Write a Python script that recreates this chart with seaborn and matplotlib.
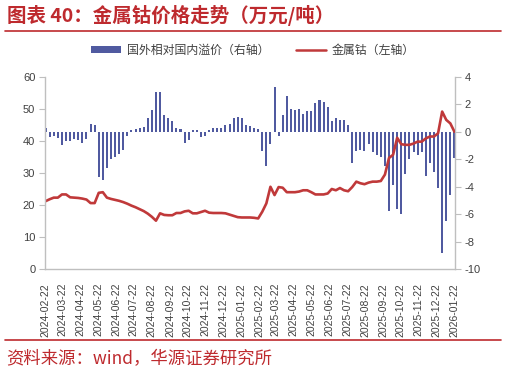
import matplotlib
matplotlib.use("Agg")
import matplotlib.pyplot as plt
import matplotlib.dates as mdates
from matplotlib.patches import Patch
from matplotlib.lines import Line2D
import pandas as pd
import seaborn as sns

# ---------------- data (weekly, from 2024-02-22) ----------------
start_date = "2024-02-22"

cobalt_price = [  # 金属钴（万元/吨，左轴）
    21.2, 21.8, 22.3, 22.3, 23.3, 23.3, 22.4, 22.3, 22.2, 22.0,
    21.7, 20.6, 20.6, 23.8, 24.0, 22.3, 21.9, 21.6, 21.3, 20.9,
    20.4, 19.8, 19.3, 18.7, 18.1, 17.3, 16.3, 15.1, 17.4, 16.9,
    16.8, 16.8, 17.5, 17.5, 18.0, 18.2, 17.4, 17.4, 17.8, 18.2,
    17.6, 17.5, 17.5, 17.5, 17.4, 17.0, 16.6, 16.2, 16.1, 16.1,
    16.1, 16.0, 15.8, 17.9, 20.5, 25.7, 23.1, 25.6, 25.4, 24.0,
    24.0, 24.0, 24.2, 24.6, 24.6, 24.0, 23.3, 23.3, 23.3, 23.6,
    25.0, 24.6, 25.3, 24.6, 24.3, 25.6, 27.3, 26.8, 26.5, 27.0,
    27.3, 27.3, 27.5, 29.5, 34.7, 35.7, 41.0, 39.0, 38.8, 38.8,
    39.2, 39.8, 39.8, 40.8, 41.4, 41.4, 42.4, 49.2, 46.6, 45.5,
    42.9,
]

premium = [  # 国外相对国内溢价（右轴）
    0.3, -0.4, -0.3, -0.45, -0.95, -0.7, -0.65, -0.5, -0.6, -0.8,
    -0.5, 0.6, 0.5, -3.3, -3.5, -2.6, -2.0, -1.8, -1.6, -1.3,
    -0.3, 0.1, 0.2, 0.3, 0.35, 1.0, 1.6, 2.9, 2.9, 1.2,
    1.0, 0.8, 0.3, 0.2, -0.8, -0.6, 0.15, 0.1, -0.35, -0.3,
    0.1, 0.3, 0.3, 0.3, 0.5, 0.6, 1.0, 1.1, 1.0, 0.5,
    0.4, 0.3, 0.2, -1.4, -2.5, -0.9, 3.3, -0.3, 1.25, 2.65,
    1.7, 1.6, 1.7, 1.3, 1.5, 1.5, 2.1, 2.3, 2.2, 1.8,
    0.8, 1.0, 0.9, 0.9, 0.5, -2.3, -1.4, -1.3, -1.4, -0.9,
    -1.5, -1.7, -1.8, -2.5, -5.8, -3.9, -5.6, -6.0, -3.1, -2.0,
    -1.5, -1.7, -1.5, -3.2, -2.3, -2.9, -4.1, -8.8, -6.5, -4.6,
    -1.9,
]

tick_labels = [
    "2024-02-22", "2024-03-22", "2024-04-22", "2024-05-22", "2024-06-22",
    "2024-07-22", "2024-08-22", "2024-09-22", "2024-10-22", "2024-11-22",
    "2024-12-22", "2025-01-22", "2025-02-22", "2025-03-22", "2025-04-22",
    "2025-05-22", "2025-06-22", "2025-07-22", "2025-08-22", "2025-09-22",
    "2025-10-22", "2025-11-22", "2025-12-22", "2026-01-22",
]

title_text = "图表 40：金属钴价格走势（万元/吨）"
source_text = "资料来源：wind，华源证券研究所"
bar_label = "国外相对国内溢价（右轴）"
line_label = "金属钴（左轴）"

# ---------------- style ----------------
BAR = "#505AA0"
LINE = "#C0393A"
RED = "#BE2A2E"
GRID_GRAY = "#BFBFBF"
TXT = "#404040"

sns.set_theme(style="white")
plt.rcParams["font.family"] = ["Liberation Sans", "Noto Sans CJK SC", "DejaVu Sans"]
plt.rcParams["axes.unicode_minus"] = False
CJK = ["Noto Sans CJK SC", "DejaVu Sans"]

dates = pd.date_range(start_date, periods=len(cobalt_price), freq="7D")
xnum = mdates.date2num(dates)
df = pd.DataFrame({"x": xnum, "price": cobalt_price, "premium": premium})

W, H = 506, 373
fig = plt.figure(figsize=(W / 100, H / 100), dpi=100)
ax = fig.add_axes([45 / W, 1 - 269 / H, 410 / W, 192 / H])
ax2 = ax.twinx()

sns.barplot(data=df, x="x", y="premium", native_scale=True, ax=ax2,
            color=BAR, saturation=1, width=0.5, errorbar=None,
            edgecolor="none", linewidth=0)
sns.lineplot(data=df, x="x", y="price", ax=ax, color=LINE, linewidth=1.9)

ax.set_zorder(ax2.get_zorder() + 1)
ax.patch.set_visible(False)

tick_pos = mdates.date2num(pd.to_datetime(tick_labels))
ax.set_xlim(tick_pos[0] - 1, tick_pos[-1] + 1)
ax.set_xticks(tick_pos)
ax.set_xticklabels(tick_labels, rotation=90, fontsize=7.5, color=TXT)

ax.set_ylim(0, 60)
ax.set_yticks(range(0, 61, 10))
ax2.set_ylim(-10, 4)
ax2.set_yticks(range(-10, 5, 2))

for a in (ax, ax2):
    a.set_xlabel("")
    a.set_ylabel("")
    for s in a.spines.values():
        s.set_visible(False)

ax.spines["left"].set_visible(True)
ax.spines["bottom"].set_visible(True)
ax2.spines["right"].set_visible(True)
for s in (ax.spines["left"], ax.spines["bottom"], ax2.spines["right"]):
    s.set_color(GRID_GRAY)
    s.set_linewidth(1.0)

ax.tick_params(axis="y", left=True, direction="out", length=4, width=0.8,
               color=GRID_GRAY, labelsize=8, labelcolor=TXT, pad=3)
ax.tick_params(axis="x", bottom=False, labelsize=7.5, labelcolor=TXT, pad=4)
ax2.tick_params(axis="y", right=True, direction="out", length=4, width=0.8,
                color=GRID_GRAY, labelsize=8, labelcolor=TXT, pad=3)
ax.grid(False)
ax2.grid(False)

# legend
handles = [Patch(facecolor=BAR, edgecolor="none", label=bar_label),
           Line2D([], [], color=LINE, linewidth=1.8, label=line_label)]
leg = fig.legend(handles=handles, loc="center", bbox_to_anchor=(253 / W, 1 - 50 / H),
                 ncol=2, frameon=False, handlelength=2.5, handleheight=0.5,
                 columnspacing=2.2, handletextpad=0.5,
                 prop={"family": CJK, "size": 8.6})
for t in leg.get_texts():
    t.set_color(TXT)

# title, rules, source
fig.text(7 / W, 1 - 15 / H, title_text, fontsize=14, fontweight="bold",
         color=RED, family=CJK, va="center", ha="left")
fig.add_artist(Line2D([5 / W, 501 / W], [1 - 31 / H] * 2, color=RED, linewidth=1.2))
fig.add_artist(Line2D([5 / W, 501 / W], [1 - 340 / H] * 2, color=RED, linewidth=1.2))
fig.text(6 / W, 1 - 359 / H, source_text, fontsize=12.5, color=RED,
         family=CJK, va="center", ha="left")

fig.savefig("out.png", dpi=100)
